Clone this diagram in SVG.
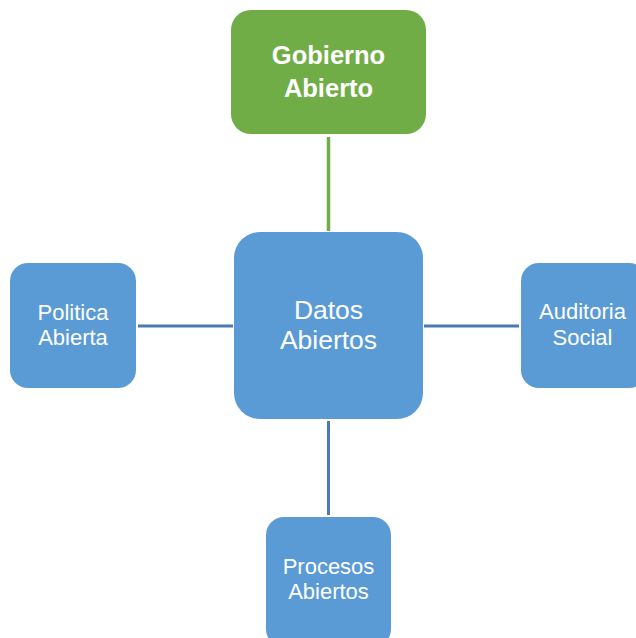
<svg xmlns="http://www.w3.org/2000/svg" width="636" height="638" viewBox="0 0 636 638">
<style>
.box{fill:#5b9bd5;}
.green{fill:#70ad47;}
.t{font-family:"Liberation Sans",Arial,sans-serif;fill:#ffffff;text-anchor:middle;}
.s{font-size:22px;}
.m{font-size:26.5px;}
.b{font-size:25.5px;font-weight:bold;}
.ln{stroke:#4a7ab4;stroke-width:3;fill:none;}
.lg{stroke:#70ad47;stroke-width:3.5;fill:none;}
</style>
<rect width="636" height="638" fill="#ffffff"/>
<g id="connectors">
<line class="lg" x1="328.5" y1="137" x2="328.5" y2="231"/>
<line class="ln" x1="138" y1="326" x2="233" y2="326"/>
<line class="ln" x1="424" y1="326" x2="519" y2="326"/>
<line class="ln" x1="328.5" y1="421" x2="328.5" y2="515"/>
</g>
<g id="gobierno">
<rect class="green" x="231" y="10" width="195" height="124" rx="20"/>
<text class="t b" x="328.5" y="63.5">Gobierno</text>
<text class="t b" x="328.5" y="97">Abierto</text>
</g>
<g id="datos">
<rect class="box" x="234" y="232" width="189" height="187" rx="26"/>
<text class="t m" x="328.5" y="318.5">Datos</text>
<text class="t m" x="328.5" y="349">Abiertos</text>
</g>
<g id="politica">
<rect class="box" x="10" y="263" width="126" height="125" rx="18"/>
<text class="t s" x="73" y="320">Politica</text>
<text class="t s" x="73" y="345">Abierta</text>
</g>
<g id="auditoria">
<rect class="box" x="521" y="263" width="126" height="125" rx="18"/>
<text class="t s" x="582.5" y="318.5">Auditoria</text>
<text class="t s" x="582.5" y="345">Social</text>
</g>
<g id="procesos">
<rect class="box" x="266" y="517" width="125" height="130" rx="18"/>
<text class="t s" x="328.5" y="573.5">Procesos</text>
<text class="t s" x="328.5" y="598.5">Abiertos</text>
</g>
</svg>
